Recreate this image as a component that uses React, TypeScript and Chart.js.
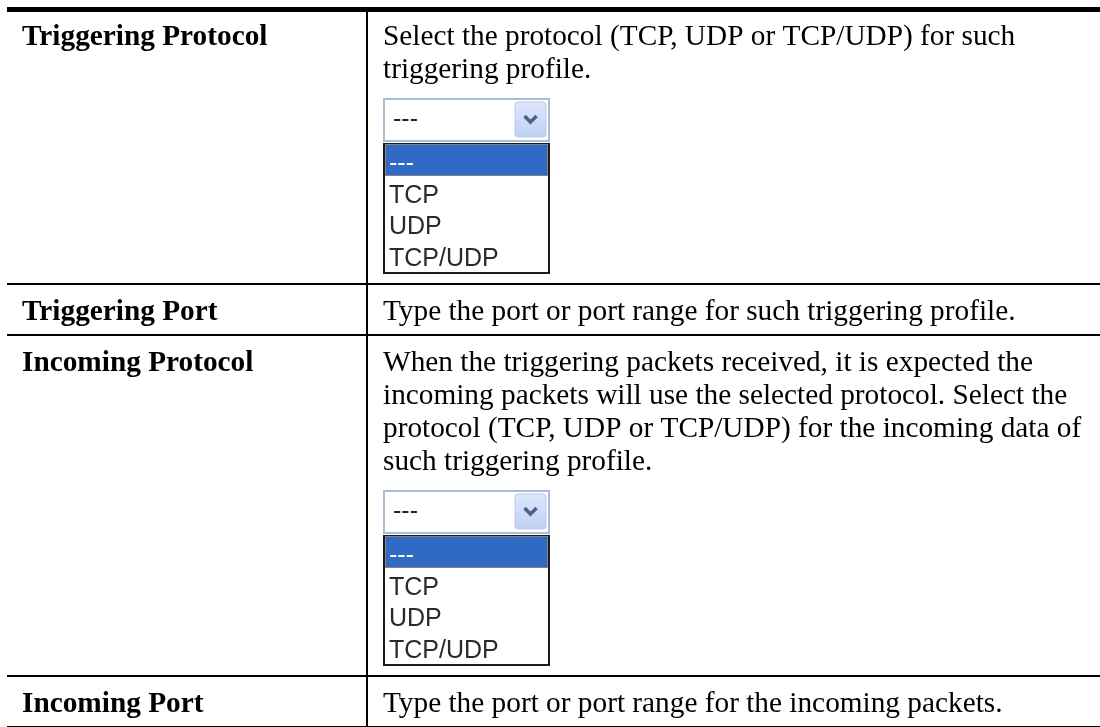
import React, { useEffect, useRef } from "react";
import { Chart, registerables } from "chart.js";

Chart.register(...registerables);

// ---- content ----
const rowLabels = ["Triggering Protocol", "Triggering Port", "Incoming Protocol", "Incoming Port"];
const rowDescriptions: string[][] = [
  ["Select the protocol (TCP, UDP or TCP/UDP) for such", "triggering profile."],
  ["Type the port or port range for such triggering profile."],
  [
    "When the triggering packets received, it is expected the",
    "incoming packets will use the selected protocol. Select the",
    "protocol (TCP, UDP or TCP/UDP) for the incoming data of",
    "such triggering profile.",
  ],
  ["Type the port or port range for the incoming packets."],
];
const rowHasDropdown = [true, false, true, false];
const dropdownOptions = ["---", "TCP", "UDP", "TCP/UDP"];
const dropdownSelected = "---";

// ---- layout / style (page units) ----
const L = {
  width: 1100,
  height: 727,
  left: 7,
  right: 1100,
  divider: 367,
  topRule: 9.5,
  topRuleWidth: 5,
  ruleWidth: 2,
  labelX: 22,
  textX: 383,
  firstBaseline: 35.5,
  lineHeight: 33,
  ddGap: 20,
  ddHeight: 176,
  ddWidth: 167,
  ddAfter: 10,
  textAfter: 15.5,
};

const serif = "'Liberation Serif', 'Times New Roman', serif";
const sans = "'Liberation Sans', Arial, sans-serif";
const textSize = 29.3;
const itemSize = 25;

type RowLayout = { rule: number; baselines: number[]; ddTop: number | null };

function computeRows(): { rows: RowLayout[]; rules: number[] } {
  const rows: RowLayout[] = [];
  const rules: number[] = [L.topRule];
  let rule = L.topRule;
  for (let i = 0; i < rowLabels.length; i++) {
    const baselines = rowDescriptions[i].map((_, k) => rule + L.firstBaseline + k * L.lineHeight);
    const last = baselines[baselines.length - 1];
    let ddTop: number | null = null;
    let next: number;
    if (rowHasDropdown[i]) {
      ddTop = Math.round(last + L.ddGap);
      next = ddTop + L.ddHeight + L.ddAfter;
    } else {
      next = last + L.textAfter;
    }
    rows.push({ rule, baselines, ddTop });
    rule = Math.round(next);
    rules.push(rule);
  }
  return { rows, rules };
}

const tablePlugin = {
  id: "tablePlugin",
  afterDraw(chart: any) {
    const ctx: CanvasRenderingContext2D = chart.ctx;
    const xs = chart.scales.x;
    const ys = chart.scales.y;
    const X = (v: number) => xs.getPixelForValue(v);
    const Y = (v: number) => ys.getPixelForValue(v);
    const { rows, rules } = computeRows();

    ctx.save();
    ctx.fillStyle = "#ffffff";
    ctx.fillRect(X(0), Y(0), X(L.width) - X(0), Y(L.height) - Y(0));

    // horizontal rules
    ctx.strokeStyle = "#000000";
    rules.forEach((r, i) => {
      ctx.lineWidth = i === 0 ? L.topRuleWidth : L.ruleWidth;
      ctx.beginPath();
      ctx.moveTo(X(L.left), Y(r));
      ctx.lineTo(X(L.right), Y(r));
      ctx.stroke();
    });
    // vertical divider
    ctx.lineWidth = L.ruleWidth;
    ctx.beginPath();
    ctx.moveTo(X(L.divider), Y(L.topRule + L.topRuleWidth / 2));
    ctx.lineTo(X(L.divider), Y(L.height));
    ctx.stroke();

    // text
    ctx.textAlign = "left";
    ctx.textBaseline = "alphabetic";
    rows.forEach((row, i) => {
      ctx.fillStyle = "#000000";
      ctx.font = `bold ${textSize}px ${serif}`;
      ctx.fillText(rowLabels[i], X(L.labelX), Y(row.baselines[0]));
      ctx.font = `${textSize}px ${serif}`;
      rowDescriptions[i].forEach((line, k) => {
        ctx.fillText(line, X(L.textX), Y(row.baselines[k]));
      });
      if (row.ddTop !== null) drawDropdown(ctx, X, Y, L.textX, row.ddTop);
    });
    ctx.restore();
  },
};

function drawDropdown(
  ctx: CanvasRenderingContext2D,
  X: (v: number) => number,
  Y: (v: number) => number,
  x0: number,
  y0: number
) {
  const w = L.ddWidth;
  // select box
  ctx.fillStyle = "#ffffff";
  ctx.fillRect(X(x0), Y(y0), X(x0 + w) - X(x0), Y(y0 + 44) - Y(y0));
  ctx.strokeStyle = "#a9bcd8";
  ctx.lineWidth = 2;
  ctx.strokeRect(X(x0) + 1, Y(y0) + 1, X(x0 + w) - X(x0) - 2, Y(y0 + 44) - Y(y0) - 2);

  // arrow button
  const bx = X(x0 + 132), by = Y(y0 + 4), bw = X(x0 + 163) - bx, bh = Y(y0 + 39) - by;
  const g = ctx.createLinearGradient(0, by, 0, by + bh);
  g.addColorStop(0, "#dde7fb");
  g.addColorStop(1, "#bfd1f4");
  ctx.fillStyle = g;
  ctx.beginPath();
  ctx.roundRect(bx, by, bw, bh, 3);
  ctx.fill();
  ctx.strokeStyle = "#b9cbee";
  ctx.lineWidth = 1;
  ctx.stroke();
  ctx.strokeStyle = "#4d6185";
  ctx.lineWidth = 3.5;
  ctx.lineJoin = "miter";
  ctx.beginPath();
  ctx.moveTo(X(x0 + 141.5), Y(y0 + 18));
  ctx.lineTo(X(x0 + 147.5), Y(y0 + 24));
  ctx.lineTo(X(x0 + 153.5), Y(y0 + 18));
  ctx.stroke();

  ctx.font = `${itemSize}px ${sans}`;
  ctx.fillStyle = "#222222";
  ctx.fillText(dropdownSelected, X(x0 + 10), Y(y0 + 29));

  // list box
  ctx.fillStyle = "#ffffff";
  ctx.fillRect(X(x0), Y(y0 + 45), X(x0 + w) - X(x0), Y(y0 + 176) - Y(y0 + 45));
  ctx.strokeStyle = "#1c1c1c";
  ctx.lineWidth = 2;
  ctx.strokeRect(X(x0) + 1, Y(y0 + 45) + 1, X(x0 + w) - X(x0) - 2, Y(y0 + 176) - Y(y0 + 45) - 2);

  dropdownOptions.forEach((opt, i) => {
    const base = y0 + 73 + 31.5 * i;
    if (opt === dropdownSelected) {
      ctx.fillStyle = "#316ac5";
      ctx.fillRect(X(x0 + 2), Y(y0 + 46), X(x0 + w - 2) - X(x0 + 2), Y(y0 + 78) - Y(y0 + 46));
      ctx.save();
      ctx.strokeStyle = "#d9a43a";
      ctx.lineWidth = 1;
      ctx.setLineDash([1, 1]);
      ctx.strokeRect(X(x0 + 2) + 0.5, Y(y0 + 46) + 0.5, X(x0 + w - 2) - X(x0 + 2) - 1, Y(y0 + 78) - Y(y0 + 46) - 1);
      ctx.restore();
      ctx.fillStyle = "#ffffff";
    } else {
      ctx.fillStyle = "#2a2a2a";
    }
    ctx.font = `${itemSize}px ${sans}`;
    ctx.fillText(opt, X(x0 + 6), Y(base));
  });
}

export default function App() {
  const ref = useRef<HTMLCanvasElement | null>(null);
  useEffect(() => {
    if (!ref.current) return;
    const chart = new Chart(ref.current, {
      type: "scatter",
      data: { datasets: [] },
      options: {
        responsive: false,
        animation: false,
        devicePixelRatio: 1,
        events: [],
        layout: { padding: 0 },
        plugins: { legend: { display: false }, tooltip: { enabled: false }, title: { display: false } },
        scales: {
          x: { type: "linear", min: 0, max: L.width, display: false },
          y: { type: "linear", min: 0, max: L.height, reverse: true, display: false },
        },
      },
      plugins: [tablePlugin],
    } as any);
    return () => chart.destroy();
  }, []);
  return (
    <div style={{ position: "fixed", left: 0, top: 0, width: L.width, height: L.height, background: "#fff" }}>
      <canvas ref={ref} width={L.width} height={L.height} style={{ display: "block" }} />
    </div>
  );
}
